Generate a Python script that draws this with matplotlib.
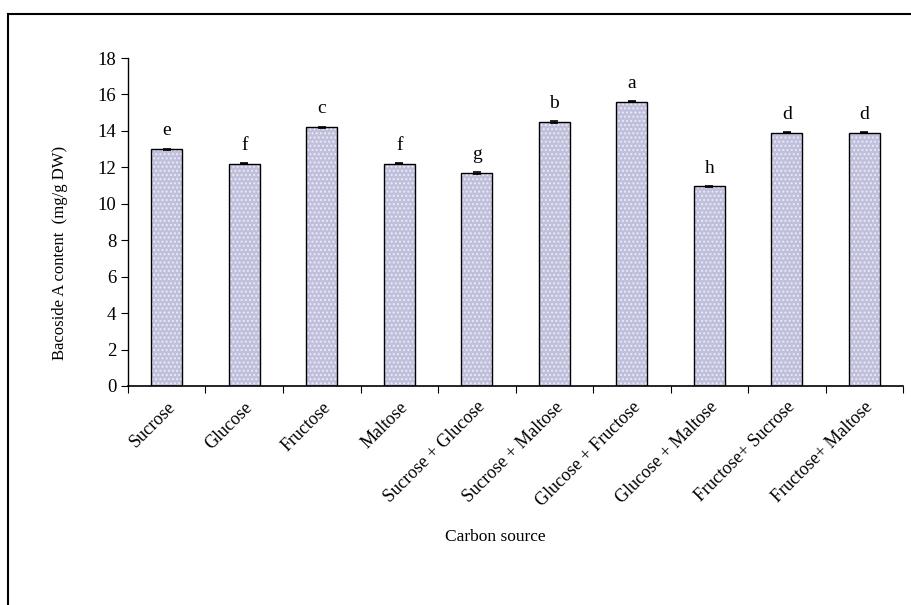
import matplotlib
matplotlib.use("Agg")
import matplotlib.pyplot as plt
import numpy as np

categories = ["Sucrose", "Glucose", "Fructose", "Maltose", "Sucrose + Glucose",
              "Sucrose + Maltose", "Glucose + Fructose", "Glucose + Maltose",
              "Fructose+ Sucrose", "Fructose+ Maltose"]
values = [13.0, 12.2, 14.2, 12.2, 11.7, 14.5, 15.6, 10.95, 13.9, 13.9]
errors = [0.03, 0.03, 0.04, 0.03, 0.04, 0.05, 0.04, 0.04, 0.03, 0.04]
letters = ["e", "f", "c", "f", "g", "b", "a", "h", "d", "d"]

plt.rcParams['font.family'] = ['Liberation Serif', 'DejaVu Serif']
plt.rcParams['hatch.linewidth'] = 0.9

fig = plt.figure(figsize=(9.12, 6.05), dpi=100)
# outer frame (left and top visible)
fig.add_artist(plt.Line2D([8/912, 8/912], [0, 1-14/605], color='black', lw=1.5, transform=fig.transFigure))
fig.add_artist(plt.Line2D([8/912, 1], [1-14/605, 1-14/605], color='black', lw=1.5, transform=fig.transFigure))

ax = fig.add_axes([128/912, 1-386/605, (903-128)/912, (386-58)/605])
x = np.arange(len(categories))
# dotted fill
ax.bar(x, values, width=0.4, color='#c0c0dc', edgecolor='#ececf6', linewidth=0, hatch='....')
# outline + error bars
ax.bar(x, values, width=0.4, fill=False, edgecolor='black', linewidth=1.0,
       yerr=errors, capsize=3, error_kw=dict(ecolor='black', elinewidth=1, capthick=1.2))
for xi, v, e, l in zip(x, values, errors, letters):
    ax.text(xi, v + e + 0.5, l, ha='center', va='bottom', fontsize=14)

ax.set_xlim(-0.5, len(categories) - 0.5)
ax.set_ylim(0, 18)
ax.set_yticks(np.arange(0, 19, 2))
ax.set_xticks(np.arange(-0.5, len(categories), 1.0))
ax.set_xticklabels([])
ax.set_xticks(x, minor=True)
ax.set_xticklabels(categories, minor=True, rotation=45, ha='right', rotation_mode='anchor', fontsize=13)
ax.tick_params(axis='x', which='minor', length=0, pad=9)
ax.tick_params(axis='x', which='major', length=5, direction='out')
ax.tick_params(axis='y', length=5, direction='out', labelsize=13.5)
for s in ['top', 'right']:
    ax.spines[s].set_visible(False)
ax.spines['left'].set_linewidth(1.0)
ax.spines['bottom'].set_linewidth(1.2)

fig.text(60/912, 1-253/605, "Bacoside A content  (mg/g DW)", rotation=90,
         ha='center', va='center', fontsize=12)
fig.text(495/912, 1-537/605, "Carbon source", ha='center', va='center', fontsize=12.5)

fig.savefig("out.png", dpi=100)
